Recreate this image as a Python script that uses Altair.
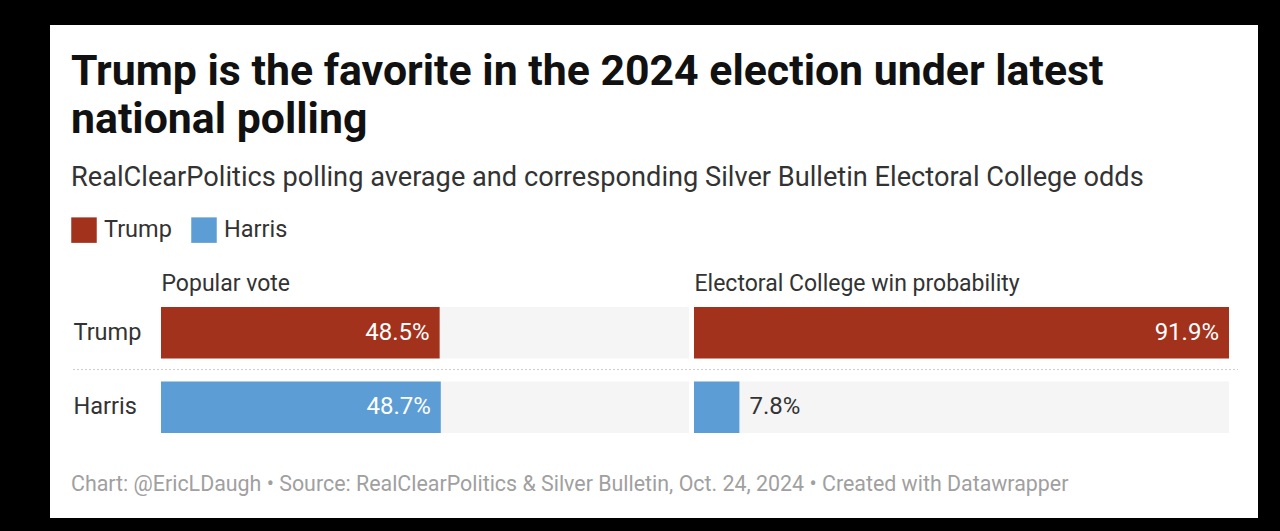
import altair as alt
import pandas as pd

# ---- data ----
candidates = ["Trump", "Harris"]
popular_vote = [48.5, 48.7]
ec_probability = [91.9, 7.8]
panel_titles = ["Popular vote", "Electoral College win probability"]
bar_colors = ["#a3321d", "#5d9dd6"]
title_lines = ["Trump is the favorite in the 2024 election under latest", "national polling"]
subtitle_text = "RealClearPolitics polling average and corresponding Silver Bulletin Electoral College odds"
footer_text = ["Chart: @EricLDaugh \u2022 Source: RealClearPolitics & Silver Bulletin, Oct. 24, 2024 \u2022 Created with Datawrapper"]

FONT = "Roboto"
scale_max = max(popular_vote + ec_probability)


def panel_frame(values):
    return pd.DataFrame({
        "candidate": candidates,
        "value": values,
        "label": [f"{v}%" for v in values],
        "full": [scale_max] * len(values),
    })


y_scale = alt.Scale(domain=candidates, range=[282, 408], paddingInner=0.31, paddingOuter=0)

y_enc = alt.Y(
    "candidate:N",
    scale=y_scale,
    axis=alt.Axis(
        title=None, orient="left", offset=-23, labelAlign="left", labelPadding=0,
        ticks=False, domain=False, grid=False, labelFontSize=23.5, labelFont=FONT,
        labelColor="#333333", labelBaseline="middle",
    ),
)

color_enc = alt.Color(
    "candidate:N",
    scale=alt.Scale(domain=candidates, range=bar_colors),
    legend=alt.Legend(
        orient="none", legendX=21, legendY=192, direction="horizontal", title=None,
        symbolType="square", symbolSize=650, symbolStrokeWidth=0, symbolOpacity=1,
        labelFontSize=23.5, labelFont=FONT, labelColor="#333333", labelOffset=7,
        columnPadding=19, padding=0,
    ),
)


def panel(values, title, rng):
    df = panel_frame(values)
    xs = alt.Scale(domain=[0, scale_max], range=rng, nice=False, zero=True)
    x_axis = alt.Axis(
        title=title, orient="top", offset=-282, titleAnchor="start", labels=False,
        ticks=False, domain=False, grid=False, titleFontSize=23, titleFont=FONT,
        titleFontWeight="normal", titleColor="#333333", titlePadding=17,
        titleBaseline="alphabetic",
    )
    base = alt.Chart(df)
    bg = base.mark_bar(color="#f5f5f5").encode(
        x=alt.X("full:Q", scale=xs, axis=x_axis), y=y_enc
    )
    bars = base.mark_bar().encode(
        x=alt.X("value:Q", scale=xs), y=y_enc, color=color_enc
    )
    inside = base.transform_filter("datum.value >= 15").mark_text(
        align="right", baseline="middle", dx=-10, color="white", fontSize=24, font=FONT
    ).encode(x=alt.X("value:Q", scale=xs), y=y_enc, text="label:N")
    outside = base.transform_filter("datum.value < 15").mark_text(
        align="left", baseline="middle", dx=10, color="#333333", fontSize=24, font=FONT
    ).encode(x=alt.X("value:Q", scale=xs), y=y_enc, text="label:N")
    return alt.layer(bg, bars, inside, outside)


p1 = panel(popular_vote, panel_titles[0], [111, 639])
p2 = panel(ec_probability, panel_titles[1], [644, 1179])

sep = alt.Chart(pd.DataFrame({"candidate": [candidates[1]]})).mark_rule(
    color="#cccccc", strokeDash=[2, 2], strokeWidth=1
).encode(
    y=alt.Y("candidate:N", bandPosition=0, scale=y_scale),
    yOffset=alt.value(-12),
    x=alt.value(23), x2=alt.value(1188),
)

footer = alt.Chart(pd.DataFrame({"t": footer_text})).mark_text(
    align="left", baseline="alphabetic", fontSize=21.4, font=FONT, color="#a0a0a0"
).encode(text="t:N", x=alt.value(21), y=alt.value(466))

chart = alt.layer(p1, p2, sep, footer).resolve_scale(x="independent").resolve_axis(x="independent").properties(
    width=1208,
    height=493,
    background="#000000",
    padding={"left": 50, "top": 25, "right": 22, "bottom": 13},
    autosize=alt.AutoSizeParams(type="none"),
    title=alt.Title(
        text=title_lines,
        subtitle=subtitle_text,
        anchor="start",
        frame="group",
        dx=21,
        offset=-166,
        font=FONT,
        fontSize=42.8,
        fontWeight="bold",
        color="#111111",
        lineHeight=48,
        subtitleFont=FONT,
        subtitleFontSize=27.2,
        subtitleColor="#333333",
        subtitlePadding=23,
    ),
).configure_view(fill="white", stroke=None)

chart.save("out.html", embed_options={"renderer": "svg", "actions": False})
